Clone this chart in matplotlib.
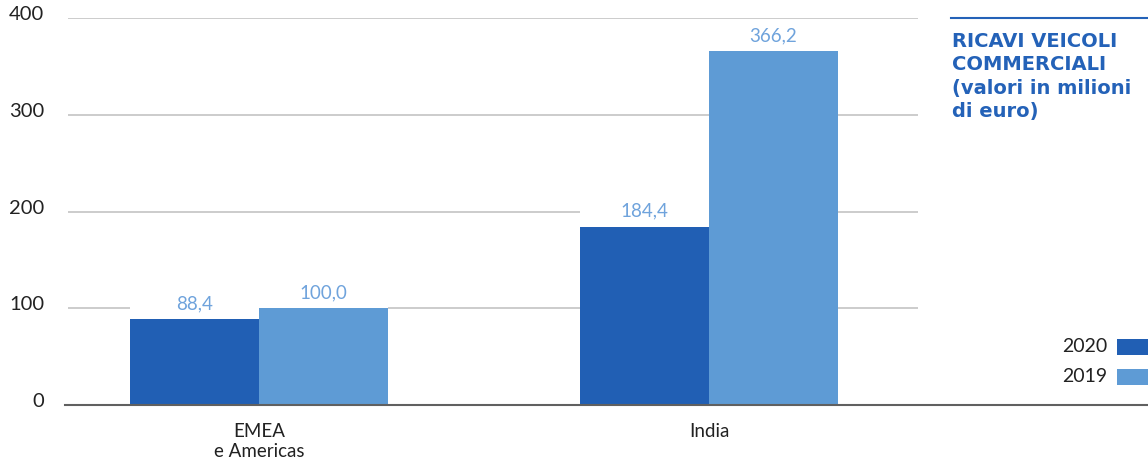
import matplotlib.pyplot as plt
import matplotlib.transforms as mtransforms
from matplotlib.lines import Line2D
from matplotlib.patches import Rectangle
import numpy as np

plt.rcParams['font.family'] = ['Lato', 'DejaVu Sans']

# revenues by area, millions of euro
areas = ['EMEA\ne Americas', 'India']
ricavi_2020 = [88.4, 184.4]
ricavi_2019 = [100.0, 366.2]
years = ['2020', '2019']
yticks = [0, 100, 200, 300, 400]

dark_blue = '#215fb4'
light_blue = '#5e9bd5'
label_blue = '#6fa3dc'
title_blue = '#2462b8'

fig = plt.figure(figsize=(11.48, 4.62), dpi=100)
ax = fig.add_axes([68 / 1148, 57 / 462, 850 / 1148, 387 / 462])

x = np.arange(len(areas))
w = 0.2867

# white patches hide the grid behind the value labels
for xs, vals in ((x - w / 2, ricavi_2020), (x + w / 2, ricavi_2019)):
    ax.bar(xs, [30] * len(vals), w, bottom=vals, color='white', zorder=2)

ax.bar(x - w / 2, ricavi_2020, w, color=dark_blue, zorder=3)
ax.bar(x + w / 2, ricavi_2019, w, color=light_blue, zorder=3)

for xs, vals in ((x - w / 2, ricavi_2020), (x + w / 2, ricavi_2019)):
    for xi, v in zip(xs, vals):
        ax.annotate(f'{v:.1f}'.replace('.', ','), (xi, v), xytext=(0, 11),
                    textcoords='offset points', ha='center', va='center',
                    fontsize=13.5, color=label_blue, zorder=4)

ax.set_xlim(-0.4244, 1.4644)
ax.set_ylim(0, 400)
ax.set_yticks(yticks)
ax.set_xticks(x)
ax.set_xticklabels(areas, fontsize=13.5, color='#222222', linespacing=1.2)
ax.tick_params(axis='x', length=0, pad=13)
ax.tick_params(axis='y', length=0, pad=17, labelsize=14.5, labelcolor='#222222')
shift = mtransforms.ScaledTranslation(0, 5 / 100, fig.dpi_scale_trans)
for lab in ax.get_yticklabels():
    lab.set_transform(lab.get_transform() + shift)

for y in yticks[1:]:
    ax.axhline(y, color='#c4c4c4', lw=1.2, zorder=1)
for s in ax.spines.values():
    s.set_visible(False)

# baseline runs across the whole figure width
fig.add_artist(Line2D([65 / 1148, 1.0], [57 / 462, 57 / 462],
                      transform=fig.transFigure, color='#606060', lw=1.5))

# title block
fig.add_artist(Line2D([951 / 1148, 1.0], [444 / 462, 444 / 462],
                      transform=fig.transFigure, color=title_blue, lw=1.5))
fig.text(952 / 1148, 1 - 32 / 462,
         'RICAVI VEICOLI\nCOMMERCIALI\n(valori in milioni\ndi euro)',
         ha='left', va='top', fontsize=14, fontweight='bold',
         family='DejaVu Sans', color=title_blue, linespacing=1.3)

# legend
for i, (yr, col) in enumerate(zip(years, [dark_blue, light_blue])):
    yc = 347 + i * 30
    fig.text(1107 / 1148, 1 - yc / 462, yr, ha='right', va='center',
             fontsize=14, color='#222222')
    fig.add_artist(Rectangle((1117 / 1148, 1 - (yc + 8) / 462), 31 / 1148,
                             16 / 462, transform=fig.transFigure,
                             color=col, lw=0))

fig.savefig('out.png', dpi=100)
